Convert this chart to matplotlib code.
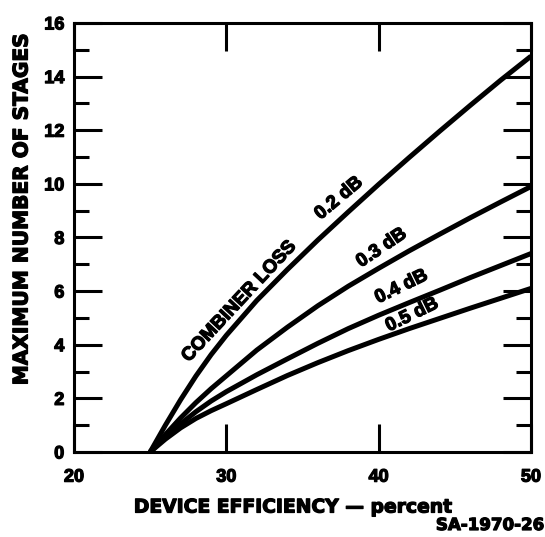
import matplotlib
matplotlib.use("Agg")
import matplotlib.pyplot as plt
import matplotlib.patheffects as pe
from matplotlib.ticker import MultipleLocator, FixedLocator

plt.rcParams['font.family'] = ['Liberation Sans', 'DejaVu Sans']
plt.rcParams['font.weight'] = 'bold'

# Device efficiency (percent) at which each curve was read
efficiency = [25, 26, 27, 28, 29, 30, 32, 34, 36, 38, 40, 42, 44, 46, 48, 50]

# Maximum number of stages for each combiner loss
stages_02db = [0, 1.0, 1.95, 2.83, 3.63, 4.35, 5.65, 6.8, 7.9, 8.95, 9.98, 10.98, 11.96, 12.92, 13.86, 14.76]
stages_03db = [0, 0.65, 1.27, 1.84, 2.36, 2.84, 3.8, 4.65, 5.45, 6.18, 6.85, 7.5, 8.12, 8.73, 9.32, 9.9]
stages_04db = [0, 0.55, 1.05, 1.5, 1.9, 2.25, 2.88, 3.47, 4.05, 4.6, 5.1, 5.57, 6.03, 6.5, 6.95, 7.4]
stages_05db = [0, 0.48, 0.9, 1.25, 1.54, 1.8, 2.33, 2.85, 3.33, 3.78, 4.2, 4.6, 4.98, 5.36, 5.73, 6.1]

curve_labels = ["0.2 dB", "0.3 dB", "0.4 dB", "0.5 dB"]
x_ticks = [20, 30, 40, 50]
y_ticks = [0, 2, 4, 6, 8, 10, 12, 14, 16]

heavy = [pe.withStroke(linewidth=0.9, foreground='black')]

fig = plt.figure(figsize=(5.45, 5.37), dpi=100)
ax = fig.add_axes([0.1358, 0.1583, 0.8385, 0.799])

for series in (stages_02db, stages_03db, stages_04db, stages_05db):
    ax.plot(efficiency, series, color='black', lw=3.6,
            solid_capstyle='butt', solid_joinstyle='round')

ax.set_xlim(20, 50)
ax.set_ylim(0, 16)

for s in ax.spines.values():
    s.set_linewidth(2.2)

ax.xaxis.set_major_locator(FixedLocator(x_ticks))
ax.yaxis.set_major_locator(FixedLocator(y_ticks))
ax.yaxis.set_minor_locator(MultipleLocator(1))
ax.tick_params(axis='both', which='major', direction='in', length=20, width=2.2,
               labelsize=13, top=True, right=True, pad=7)
ax.tick_params(axis='y', which='minor', direction='in', length=11, width=2.2,
               left=True, right=True)
ax.tick_params(axis='x', which='major', pad=12)
for lab in ax.get_xticklabels() + ax.get_yticklabels():
    lab.set_fontweight('bold')
    lab.set_path_effects(heavy)

# Axis titles
fig.text(293 / 545, 1 - 507 / 537, "DEVICE EFFICIENCY \u2014 percent",
         family='DejaVu Sans', fontsize=13.5, fontweight='bold',
         ha='center', va='center', path_effects=heavy)
fig.text(22 / 545, 1 - 209 / 537, "MAXIMUM NUMBER OF STAGES",
         family='DejaVu Sans', fontsize=14.5, fontweight='bold',
         rotation=90, ha='center', va='center', path_effects=heavy)

text_kw = dict(fontsize=13.5, fontweight='bold', ha='center', va='center',
               rotation_mode='anchor', path_effects=heavy)
ax.text(30.85, 5.6, "COMBINER LOSS", rotation=47, **text_kw)
ax.text(37.4, 9.45, curve_labels[0], rotation=40, **text_kw)
ax.text(40.2, 7.6, curve_labels[1], rotation=34, **text_kw)
ax.text(41.5, 6.15, curve_labels[2], rotation=26, **text_kw)
ax.text(42.2, 5.1, curve_labels[3], rotation=26, **text_kw)

fig.text(0.998, 1 - 525 / 537, "SA-1970-26", family='DejaVu Sans',
         fontsize=12, fontweight='bold', ha='right', va='center',
         path_effects=heavy)

fig.savefig("out.png", dpi=100)
